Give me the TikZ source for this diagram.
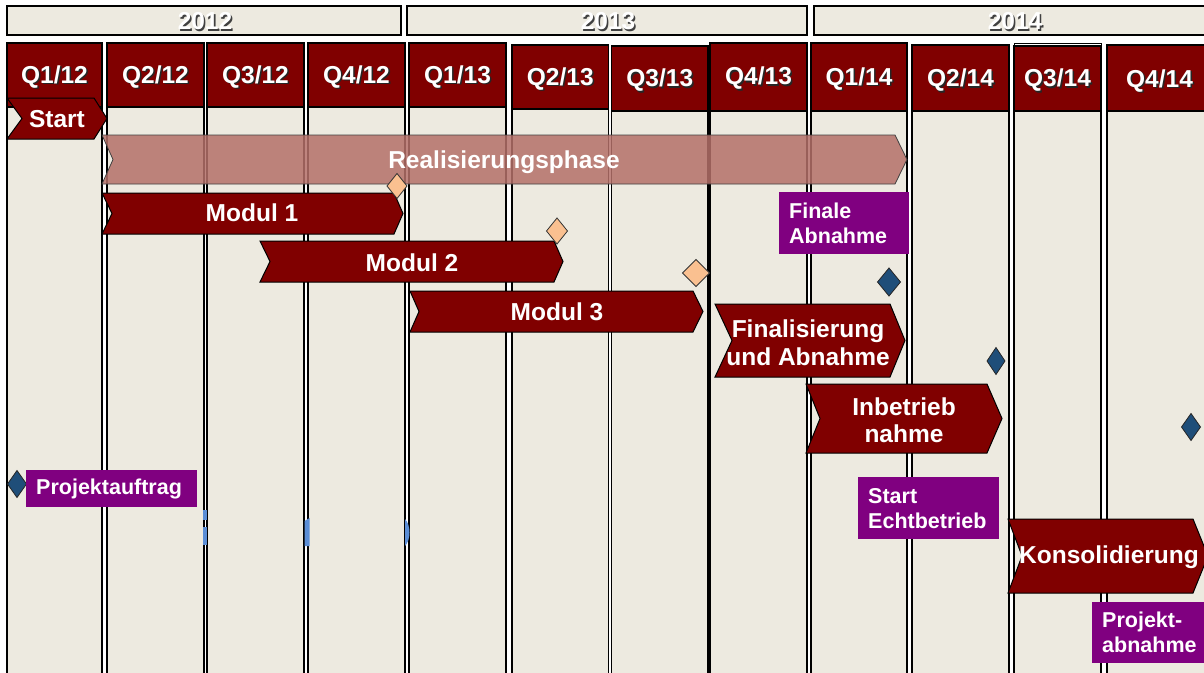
\documentclass[tikz,border=0pt]{standalone}
\usepackage{fontspec}
\setmainfont{Liberation Sans}
\usetikzlibrary{calc}
\definecolor{beige}{HTML}{EDEAE0}
\definecolor{maroonc}{HTML}{800000}
\definecolor{realc}{RGB}{180,112,105}
\definecolor{purp}{HTML}{800080}
\definecolor{orng}{HTML}{FAC090}
\definecolor{navyc}{HTML}{1F4E79}
\definecolor{artblue}{HTML}{5B8ED6}
\newcommand\chev[7]{%
  \path[#7] (#1,#2) -- ({#3-#6},#2) -- (#3,{(#2+#4)/2}) -- ({#3-#6},#4) -- (#1,#4) -- ({#1+#5},{(#2+#4)/2}) -- cycle;}
\newcommand\dia[5]{%
  \path[#5] ({#1-#3/2},#2) -- (#1,{#2-#4/2}) -- ({#1+#3/2},#2) -- (#1,{#2+#4/2}) -- cycle;}
\tikzset{
  yearbar/.style={fill=beige, draw=black, line width=1.5pt},
  colbody/.style={fill=beige, draw=black, line width=1.4pt},
  colhdr/.style={fill=maroonc, draw=black, line width=1.4pt},
  bigfont/.style={font=\bfseries\fontsize{24.5}{28}\selectfont},
  bigtxt/.style={bigfont, text=white, inner sep=0pt, align=center},
  shadtxt/.style={bigfont, text=black!85, inner sep=0pt, align=center},
  yshad/.style={bigfont, text=black!75, inner sep=0pt},
  redchev/.style={fill=maroonc, draw=black, line width=1pt},
  realchev/.style={fill=realc, fill opacity=0.85, draw=black!75, line width=0.8pt},
  plabel/.style={fill=purp, text=white, font=\bfseries\fontsize{21.5}{25}\selectfont,
    inner xsep=10pt, inner ysep=0pt, align=left, anchor=north west},
  msorange/.style={fill=orng, draw=black!80, line width=0.8pt},
  msblue/.style={fill=navyc, draw=black!85, line width=0.8pt},
  artifact/.style={fill=artblue, draw=none},
}
\begin{document}
\begin{tikzpicture}[x=1pt,y=-1pt]
\useasboundingbox (0,0) rectangle (1204,672);
\clip (0,0) rectangle (1204,672);
\fill[white] (0,0) rectangle (1204,672);
% years
\draw[yearbar] (7,6) rectangle (401,35);
\draw[yearbar] (407,6) rectangle (807,35);
\draw[yearbar] (814,6) rectangle (1212,35);
\foreach \cx/\yr/\nm in {205/2012/ya,608/2013/yb,1015/2014/yc}{
  \node[yshad] (\nm s) at ({\cx+1.6},22.6) {\yr};
  \node[bigtxt] (\nm) at (\cx,21) {\yr};
}
% columns
\draw[black, line width=0.8pt, fill=white] (1014,43) rectangle (1101,47);
\foreach \l/\r/\t/\b/\q/\yy/\ly [count=\i] in {
  7/102/43/107/1/12/77, 107/204/43/107/2/12/77, 207/304/43/107/3/12/77, 308/405/43/107/4/12/77,
  409/506/43/107/1/13/77, 512/608.5/45/109/2/13/79, 611.5/708/46/111/3/13/80.5, 710/807/43/111/4/13/78.5,
  811/907/43/111/1/14/79, 912/1009/45/111/2/14/80.5, 1014/1101/46/111/3/14/80.5, 1107/1212/45/111/4/14/81}{
  \draw[colbody] (\l,\b) rectangle (\r,690);
  \draw[colhdr] (\l,\t) rectangle (\r,\b);
  \node[shadtxt] (hs\i) at ({(\l+\r)/2+1.5},{\ly+1.5}) {Q\q/\yy};
  \node[bigtxt] (h\i) at ({(\l+\r)/2},\ly) {Q\q/\yy};
}
% small artifacts
\path[artifact] (203,510) rectangle (207,520);
\path[artifact] (203,527) rectangle (207,545);
\path[artifact] (304.5,521) -- (309.5,518) -- (309.5,546) -- (304.5,546) -- cycle;
\path[artifact] (405,519) .. controls (411,525) and (411,540) .. (405,546) -- cycle;
% start
\chev{7}{98}{107}{139}{15}{13}{redchev}
\node[bigtxt] (start) at (57,119) {Start};
% realisation phase
\chev{102}{135}{907}{184}{11}{12}{realchev}
\node[bigtxt] (real) at (504,162) {Realisierungsphase};
% modules
\chev{102}{193}{403}{234}{10}{9}{redchev}
\node[bigtxt] (m1) at (252,213) {Modul 1};
\chev{260}{241}{563}{282}{10}{9}{redchev}
\node[bigtxt] (m2) at (412,263) {Modul 2};
\chev{410}{291}{703}{332}{9}{10}{redchev}
\node[bigtxt] (m3) at (557,312) {Modul 3};
\chev{715}{304}{905}{377}{17}{15}{redchev}
\node[bigtxt] (fin) at (808,342.5) {Finalisierung\\und Abnahme};
\chev{806}{384}{1002}{453}{14}{15}{redchev}
\node[bigtxt, font=\bfseries\fontsize{24.5}{27}\selectfont] (inb) at (904,420) {Inbetrieb\\nahme};
\chev{1008}{519}{1208}{593}{14}{15}{redchev}
\node[bigtxt] (kons) at (1109,557) {Konsolidierung};
% milestones
\dia{397}{186}{20}{25}{msorange}
\dia{557}{231}{21}{26}{msorange}
\dia{696}{273}{27}{27}{msorange}
\dia{889}{282}{23}{28}{msblue}
\dia{996}{361}{18}{27}{msblue}
\dia{1191}{427}{19}{27}{msblue}
\dia{17}{484}{19}{27}{msblue}
% labels
\node[plabel, text width=110pt, minimum height=62pt] (finab) at (779,192) {Finale\\Abnahme};
\node[plabel, text width=151pt, minimum height=37pt] (pauf) at (26,470) {Projektauftrag};
\node[plabel, text width=121pt, minimum height=62pt] (secht) at (858,477) {Start\\Echtbetrieb};
\node[plabel, text width=100pt, minimum height=61pt] (pab) at (1092,602) {Projekt-\\abnahme};
\end{tikzpicture}
\end{document}
